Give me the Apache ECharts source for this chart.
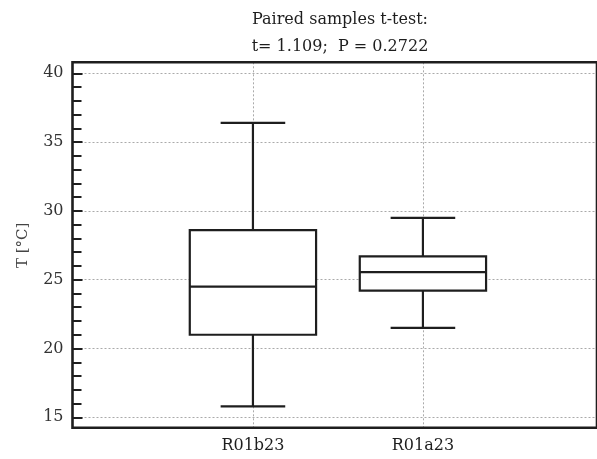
<!DOCTYPE html>
<html>
<head>
<meta charset="utf-8">
<script src="https://cdn.jsdelivr.net/npm/echarts@6/dist/echarts.min.js"></script>
<style>
html,body{margin:0;padding:0;background:#fff;}
#chart{width:597px;height:459px;}
</style>
</head>
<body>
<div id="chart"></div>
<script>
// ---- data ----
const categories = ['R01b23', 'R01a23'];
const positions = [1, 2];
const whiskerLow = [15.8, 21.5];
const q1 = [21.0, 24.2];
const median = [24.5, 25.55];
const q3 = [28.6, 26.7];
const whiskerHigh = [36.4, 29.5];
const yTicks = [15, 20, 25, 30, 35, 40];
const titleText = 'Paired samples t-test:\nt= 1.109;  P = 0.2722';
const yName = 'T [°C]';

// ---- style ----
const FONT = 'DejaVu Serif';
const INK = '#1e1e1e';
const BOX_W = 0.743;   // in x-axis units
const CAP_W = 0.38;
const LW = 2.2;

const boxData = positions.map((p, i) => [p, whiskerLow[i], q1[i], median[i], q3[i], whiskerHigh[i]]);

const chart = echarts.init(document.getElementById('chart'), null, {renderer: 'canvas'});

const xMin = -0.0614, xMax = 3.024;

chart.setOption({
  animation: false,
  title: {
    text: titleText,
    left: 335,
    top: 1,
    textAlign: 'center',
    textStyle: {fontFamily: FONT, fontWeight: 'normal', fontSize: 16, color: INK, lineHeight: 27}
  },
  grid: [
    {left: 72.5, right: -3, top: 73.3, bottom: 41.7, show: false},
    {left: 72.5, right: -3, top: 62.3, bottom: 31.3, show: true, borderColor: INK, borderWidth: 2.6, backgroundColor: 'transparent', z: 10}
  ],
  xAxis: [
    {type: 'value', gridIndex: 0, min: xMin, max: xMax, show: false},
    {
      type: 'value', gridIndex: 1, min: xMin, max: xMax,
      axisLine: {show: false, onZero: false},
      axisTick: {show: false, customValues: positions},
      axisLabel: {customValues: positions, formatter: v => categories[positions.indexOf(v)], fontFamily: FONT, fontSize: 16, color: INK, margin: 10},
      splitLine: {show: true, lineStyle: {color: '#aaa', type: [2, 2], width: 1}}
    }
  ],
  yAxis: [
    {
      type: 'value', gridIndex: 0, min: 15, max: 40, interval: 5,
      name: yName, nameLocation: 'middle', nameGap: 42, nameRotate: 90,
      nameTextStyle: {fontFamily: FONT, fontSize: 15, color: '#444'},
      axisLine: {show: false, onZero: false},
      axisTick: {show: true, inside: true, length: 10, lineStyle: {color: INK, width: 2}},
      minorTick: {show: true, splitNumber: 5, length: 9, lineStyle: {color: INK, width: 2}},
      axisLabel: {customValues: yTicks, fontFamily: FONT, fontSize: 16, color: '#333', margin: 9},
      splitLine: {show: true, lineStyle: {color: '#aaa', type: [2, 2], width: 1}}
    },
    {type: 'value', gridIndex: 1, min: 14.24, max: 40.8, show: false, axisLine: {onZero: false}}
  ],
  series: [{
    type: 'custom',
    xAxisIndex: 0,
    yAxisIndex: 0,
    data: boxData,
    z: 5,
    renderItem: function (params, api) {
      const x = api.value(0);
      const pLo = api.coord([x, api.value(1)]);
      const pQ1 = api.coord([x, api.value(2)]);
      const pMed = api.coord([x, api.value(3)]);
      const pQ3 = api.coord([x, api.value(4)]);
      const pHi = api.coord([x, api.value(5)]);
      const bw = api.size([BOX_W, 0])[0] / 2;
      const cw = api.size([CAP_W, 0])[0] / 2;
      const st = {stroke: INK, lineWidth: LW, fill: null};
      const cx = pMed[0];
      return {
        type: 'group',
        children: [
          {type: 'line', shape: {x1: cx, y1: pHi[1], x2: cx, y2: pQ3[1]}, style: st},
          {type: 'line', shape: {x1: cx, y1: pQ1[1], x2: cx, y2: pLo[1]}, style: st},
          {type: 'line', shape: {x1: cx - cw, y1: pHi[1], x2: cx + cw, y2: pHi[1]}, style: st},
          {type: 'line', shape: {x1: cx - cw, y1: pLo[1], x2: cx + cw, y2: pLo[1]}, style: st},
          {type: 'rect', shape: {x: cx - bw, y: pQ3[1], width: 2 * bw, height: pQ1[1] - pQ3[1]}, style: {stroke: INK, lineWidth: LW, fill: '#fff'}},
          {type: 'line', shape: {x1: cx - bw, y1: pMed[1], x2: cx + bw, y2: pMed[1]}, style: st}
        ]
      };
    }
  }]
});
</script>
</body>
</html>
